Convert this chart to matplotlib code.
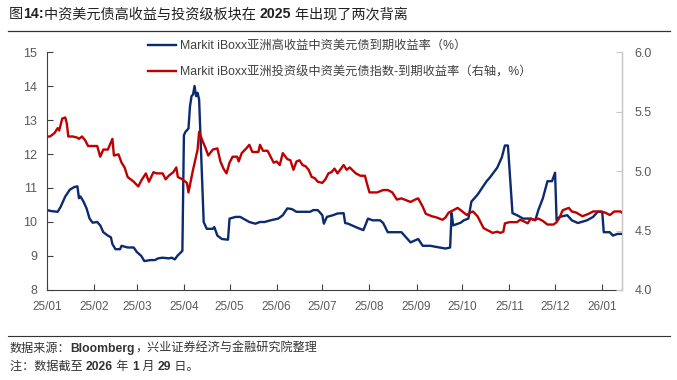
import numpy as np
import pandas as pd
import matplotlib
matplotlib.use("Agg")
import matplotlib.pyplot as plt
import matplotlib.dates as mdates

plt.rcParams['font.family'] = ['Liberation Sans', 'Noto Sans CJK SC', 'DejaVu Sans']

# high yield index, left axis (%), day offsets from 2025-01-01
hy_days = [0, 3, 7, 9, 12, 15, 18, 20, 21, 22, 24, 26, 28, 30, 33, 35, 37, 40, 42, 43,
           45, 48, 49, 53, 57, 59, 62, 64, 68, 71, 73, 76, 80, 82, 84, 86, 89, 90, 91, 93,
           94, 95, 96, 97, 98, 99, 100, 103, 105, 109, 110, 112, 115, 119, 120, 124, 127, 129, 133, 137,
           140, 143, 147, 152, 155, 158, 161, 164, 166, 173, 175, 178, 181, 182, 184, 188, 191, 195, 196, 198,
           203, 208, 211, 214, 219, 221, 224, 230, 233, 239, 244, 247, 252, 258, 262, 265, 266, 267, 272, 274,
           277, 279, 283, 286, 289, 291, 296, 299, 301, 303, 306, 309, 313, 318, 321, 323, 326, 329, 332, 334,
           335, 337, 342, 345, 349, 355, 359, 362, 365, 366, 370, 372, 375, 378]
hy_vals = [10.35, 10.32, 10.30, 10.45, 10.75, 10.95, 11.03, 11.05, 10.70, 10.75, 10.60, 10.40, 10.10, 9.98, 10.00, 9.90, 9.70, 9.60, 9.55, 9.35,
           9.20, 9.20, 9.30, 9.25, 9.25, 9.12, 9.00, 8.85, 8.88, 8.88, 8.93, 8.95, 8.93, 8.95, 8.90, 9.02, 9.15, 12.55, 12.65, 12.75,
           13.40, 13.70, 13.75, 14.00, 13.70, 13.80, 13.60, 10.00, 9.80, 9.80, 9.85, 9.60, 9.50, 9.48, 10.10, 10.15, 10.15, 10.10, 10.00, 9.95,
           10.00, 10.00, 10.05, 10.10, 10.20, 10.40, 10.38, 10.30, 10.30, 10.30, 10.35, 10.35, 10.20, 9.95, 10.15, 10.20, 10.25, 10.26, 9.97, 9.95,
           9.85, 9.76, 10.10, 10.05, 10.05, 9.97, 9.70, 9.70, 9.70, 9.40, 9.50, 9.30, 9.30, 9.25, 9.22, 9.25, 10.26, 9.90, 9.98, 10.05,
           10.10, 10.60, 10.80, 11.00, 11.20, 11.30, 11.60, 11.90, 12.25, 12.25, 10.26, 10.20, 10.10, 10.10, 10.05, 10.35, 10.70, 11.20, 11.20, 11.45,
           10.05, 10.15, 10.20, 10.05, 9.97, 10.05, 10.15, 10.30, 10.30, 9.70, 9.70, 9.60, 9.65, 9.65]

# investment grade index, right axis (%)
ig_days = [0, 2, 5, 7, 8, 10, 12, 13, 14, 17, 20, 21, 23, 25, 27, 30, 33, 35, 37, 40,
           43, 44, 47, 49, 51, 53, 57, 60, 62, 65, 67, 70, 72, 76, 78, 80, 83, 85, 86, 89,
           92, 93, 96, 99, 100, 102, 104, 106, 109, 112, 114, 116, 118, 120, 122, 125, 126, 128, 131, 133,
           135, 139, 140, 142, 145, 147, 149, 151, 153, 155, 158, 160, 162, 164, 166, 168, 170, 172, 174, 176,
           178, 181, 183, 185, 187, 189, 191, 195, 197, 199, 203, 206, 209, 210, 212, 217, 221, 224, 227, 230,
           233, 235, 239, 242, 244, 247, 249, 251, 253, 256, 260, 262, 264, 267, 270, 273, 276, 278, 280, 283,
           287, 290, 293, 296, 298, 300, 301, 304, 309, 311, 313, 316, 318, 320, 323, 326, 329, 333, 335, 337,
           339, 343, 345, 348, 352, 356, 359, 364, 367, 370, 373, 377, 378]
ig_vals = [5.29, 5.29, 5.32, 5.36, 5.34, 5.44, 5.45, 5.40, 5.29, 5.29, 5.28, 5.27, 5.29, 5.26, 5.21, 5.21, 5.21, 5.12, 5.18, 5.18,
           5.27, 5.13, 5.14, 5.07, 5.03, 4.95, 4.91, 4.87, 4.92, 4.98, 4.91, 4.99, 4.98, 4.98, 4.93, 4.96, 4.99, 5.03, 4.95, 4.93,
           4.90, 4.82, 5.01, 5.18, 5.33, 5.26, 5.20, 5.13, 5.18, 5.19, 5.08, 5.02, 4.98, 5.07, 5.12, 5.12, 5.08, 5.15, 5.19, 5.22,
           5.16, 5.16, 5.22, 5.17, 5.17, 5.12, 5.07, 5.08, 5.05, 5.15, 5.10, 5.09, 5.01, 5.08, 5.09, 5.05, 5.04, 5.01, 4.95, 4.94,
           4.91, 4.90, 4.93, 4.98, 4.99, 5.02, 4.98, 5.05, 5.01, 5.03, 4.98, 4.96, 4.96, 4.91, 4.82, 4.82, 4.84, 4.84, 4.82, 4.76,
           4.77, 4.76, 4.74, 4.76, 4.77, 4.70, 4.64, 4.63, 4.62, 4.61, 4.59, 4.61, 4.65, 4.67, 4.69, 4.66, 4.63, 4.65, 4.66, 4.62,
           4.52, 4.50, 4.48, 4.49, 4.48, 4.49, 4.56, 4.57, 4.57, 4.59, 4.58, 4.56, 4.60, 4.59, 4.60, 4.58, 4.55, 4.55, 4.57, 4.61,
           4.67, 4.69, 4.66, 4.65, 4.62, 4.64, 4.66, 4.66, 4.65, 4.63, 4.66, 4.66, 4.65]

hy_label = "Markit iBoxx亚洲高收益中资美元债到期收益率（%）"
ig_label = "Markit iBoxx亚洲投资级中资美元债指数-到期收益率（右轴，%）"

title_parts = [("图", "normal"), ("14:", "bold"), ("中资美元债高收益与投资级板块在 ", "normal"),
               ("2025", "bold"), (" 年出现了两次背离", "normal")]
source_parts = [("数据来源：", "normal"), ("Bloomberg", "bold"), ("，兴业证券经济与金融研究院整理", "normal")]
note_parts = [("注：数据截至 ", "normal"), ("2026", "bold"), (" 年 ", "normal"), ("1", "bold"),
              (" 月 ", "normal"), ("29", "bold"), (" 日。", "normal")]

start = pd.Timestamp("2025-01-01")
hy_dates = start + pd.to_timedelta(hy_days, unit="D")
ig_dates = start + pd.to_timedelta(ig_days, unit="D")

blue = "#0c2a6e"
red = "#c00000"
grey_txt = "#595959"
cjk = ['Liberation Sans', 'Noto Sans CJK SC', 'DejaVu Sans']

fig = plt.figure(figsize=(6.77, 3.80), dpi=100)
ax = fig.add_axes([47/677, 1-290/380, (622-47)/677, (290-52)/380])
ax2 = ax.twinx()

l1, = ax.plot(hy_dates, hy_vals, color=blue, lw=1.7, label=hy_label)
l2, = ax2.plot(ig_dates, ig_vals, color=red, lw=1.7, label=ig_label)

ax.set_xlim(start, start + pd.Timedelta(days=378))
ax.set_ylim(8, 15)
ax2.set_ylim(4.0, 6.0)
ax.set_yticks(np.arange(8, 16, 1))
ax2.set_yticks(np.arange(4.0, 6.01, 0.5))
ax2.set_yticklabels(["%.1f" % v for v in np.arange(4.0, 6.01, 0.5)])

ax.xaxis.set_major_locator(mdates.MonthLocator())
ax.xaxis.set_major_formatter(mdates.DateFormatter("%y/%m"))

for a in (ax, ax2):
    a.spines['top'].set_visible(False)
ax.spines['left'].set_color("#404040")
ax.spines['bottom'].set_color("#404040")
ax2.spines['left'].set_visible(False)
ax2.spines['bottom'].set_visible(False)
ax2.spines['right'].set_color("#c8c8c8")

ax.tick_params(axis='y', direction='in', length=4, color="#404040", labelsize=9,
               labelcolor=grey_txt, pad=7)
ax.tick_params(axis='x', direction='in', length=4, color="#404040", labelsize=8.5,
               labelcolor=grey_txt, pad=8)
ax2.tick_params(axis='y', direction='in', length=4, color="#c8c8c8", labelsize=9,
                labelcolor=grey_txt, pad=9)

fig.legend(handles=[l1, l2], loc='upper left', bbox_to_anchor=(148/677, 1-40/380),
           frameon=False, fontsize=8.8, handlelength=2.3, handletextpad=0.3,
           labelspacing=1.15, labelcolor="#404040", borderaxespad=0, borderpad=0)


# write a line of text made of normal/bold pieces, one after another
def write_parts(parts, x, y, size, color):
    fig.canvas.draw()
    renderer = fig.canvas.get_renderer()
    for txt, w in parts:
        t = fig.text(x, y, txt, fontsize=size, weight=w, color=color,
                     va='center', ha='left', family=cjk)
        x += t.get_window_extent(renderer).width / fig.bbox.width


write_parts(title_parts, 9/677, 1-14/380, 10.2, "#222222")
write_parts(source_parts, 10/677, 1-349/380, 8.7, "#333333")
write_parts(note_parts, 10/677, 1-367/380, 8.7, "#333333")

fig.add_artist(plt.Line2D([8/677, 670/677], [1-31/380, 1-31/380], color="#333333", lw=0.9))
fig.add_artist(plt.Line2D([8/677, 670/677], [1-336/380, 1-336/380], color="#333333", lw=0.8))

fig.savefig("out.png", dpi=100)
